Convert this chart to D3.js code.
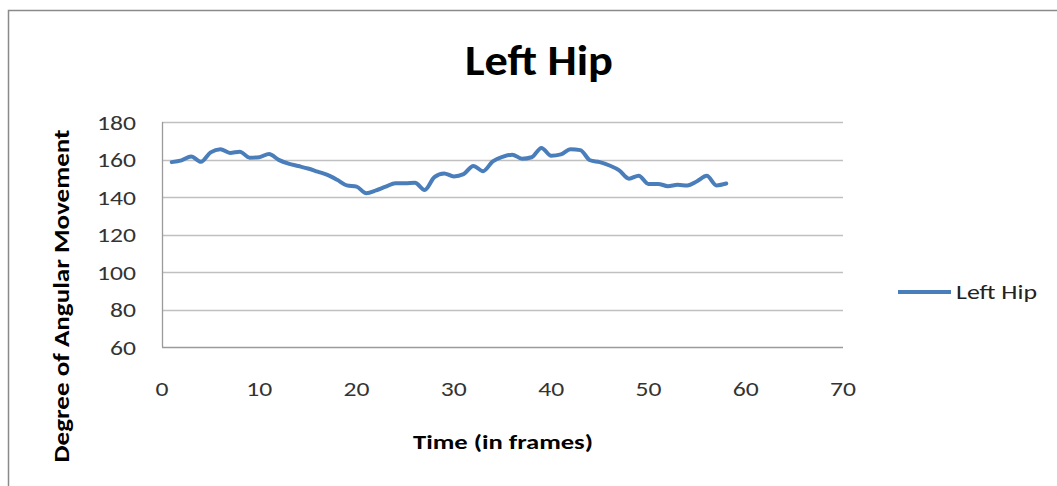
<!DOCTYPE html>
<html>
<head>
<meta charset="utf-8">
<script src="https://cdn.jsdelivr.net/npm/d3@7"></script>
<style>
    body { margin: 0; background: #fff; }
    svg { display: block; font-family: Calibri, Carlito, Lato, sans-serif; }
</style>
</head>
<body>
<div id="chart-area"></div>
<script>
// Left hip angle per frame
let frames = d3.range(1, 59);
let hipValues = [
    158.6, 159.5, 161.6, 158.8, 163.8, 165.5, 163.5, 164.2, 161.0, 161.2,
    163.0, 159.8, 157.8, 156.5, 155.2, 153.5, 151.8, 149.2, 146.2, 145.5,
    142.0, 143.5, 145.5, 147.4, 147.4, 147.6, 143.8, 150.6, 152.6, 151.0,
    152.2, 156.6, 153.8, 159.0, 161.4, 162.6, 160.4, 161.2, 166.2, 162.0,
    162.7, 165.5, 165.0, 159.6, 158.6, 156.8, 154.2, 149.8, 151.4, 147.0,
    147.0, 145.8, 146.5, 146.1, 148.4, 151.3, 146.2, 147.2
];
let xTicks = [0, 10, 20, 30, 40, 50, 60, 70];
let yTicks = [60, 80, 100, 120, 140, 160, 180];
let seriesName = "Left Hip";

let width = 1057, height = 486;
let margin = {top: 122, right: 214, bottom: 139, left: 162};

let svg = d3.select("#chart-area").append("svg")
    .attr("width", width)
    .attr("height", height);

// chart border (only top and left visible in the crop)
svg.append("path")
    .attr("d", "M8.5," + height + "V10.5H" + width)
    .attr("fill", "none")
    .attr("stroke", "#8a8a8a")
    .attr("stroke-width", 1.5);

let x = d3.scaleLinear()
    .domain([0, 70])
    .range([margin.left, width - margin.right]);

let y = d3.scaleLinear()
    .domain([60, 180])
    .range([height - margin.bottom, margin.top]);

// gridlines
svg.append("g")
    .selectAll("line")
    .data(yTicks)
    .enter().append("line")
    .attr("x1", x(0))
    .attr("x2", x(70))
    .attr("y1", d => Math.round(y(d)) + 0.5)
    .attr("y2", d => Math.round(y(d)) + 0.5)
    .attr("stroke", d => d === 60 ? "#9a9a9a" : "#c0c0c0")
    .attr("stroke-width", 1.3);

// left axis line
svg.append("line")
    .attr("x1", Math.round(x(0)) + 0.5)
    .attr("x2", Math.round(x(0)) + 0.5)
    .attr("y1", y(180))
    .attr("y2", y(60))
    .attr("stroke", "#9a9a9a")
    .attr("stroke-width", 1.3);

// the original picture is stretched sideways, so text gets a fixed length
let digitW = 13;

// y tick labels
svg.append("g")
    .selectAll("text")
    .data(yTicks)
    .enter().append("text")
    .attr("x", 136)
    .attr("y", d => y(d))
    .attr("dy", "0.36em")
    .attr("text-anchor", "end")
    .attr("textLength", d => String(d).length * digitW)
    .attr("lengthAdjust", "spacingAndGlyphs")
    .attr("style", "font-size: 21px; fill: #333;")
    .text(d => d);

// x tick labels
svg.append("g")
    .selectAll("text")
    .data(xTicks)
    .enter().append("text")
    .attr("x", d => x(d))
    .attr("y", 396)
    .attr("text-anchor", "middle")
    .attr("textLength", d => String(d).length * digitW)
    .attr("lengthAdjust", "spacingAndGlyphs")
    .attr("style", "font-size: 21px; fill: #333;")
    .text(d => d);

// the series
let line = d3.line()
    .curve(d3.curveMonotoneX)
    .x((d, i) => x(frames[i]))
    .y(d => y(d));

svg.append("path")
    .datum(hipValues)
    .attr("d", line)
    .attr("fill", "none")
    .attr("stroke", "#4a7ebb")
    .attr("stroke-width", 4)
    .attr("stroke-linejoin", "round")
    .attr("stroke-linecap", "round");

// title
svg.append("text")
    .attr("x", 539)
    .attr("y", 75)
    .attr("text-anchor", "middle")
    .attr("textLength", 148)
    .attr("lengthAdjust", "spacingAndGlyphs")
    .attr("style", "font-size: 42px; font-weight: bold; fill: #000;")
    .text(seriesName);

// axis titles
svg.append("text")
    .attr("x", 503)
    .attr("y", 449)
    .attr("text-anchor", "middle")
    .attr("textLength", 180)
    .attr("lengthAdjust", "spacingAndGlyphs")
    .attr("style", "font-size: 21px; font-weight: bold; fill: #000;")
    .text("Time (in frames)");

svg.append("text")
    .attr("transform", "translate(69, 296) rotate(-90)")
    .attr("text-anchor", "middle")
    .attr("textLength", 333)
    .attr("lengthAdjust", "spacingAndGlyphs")
    .attr("style", "font-size: 22px; font-weight: bold; fill: #000;")
    .text("Degree of Angular Movement");

// legend
svg.append("line")
    .attr("x1", 898)
    .attr("x2", 951)
    .attr("y1", 292)
    .attr("y2", 292)
    .attr("stroke", "#4a7ebb")
    .attr("stroke-width", 4);

svg.append("text")
    .attr("x", 956)
    .attr("y", 299)
    .attr("textLength", 81)
    .attr("lengthAdjust", "spacingAndGlyphs")
    .attr("style", "font-size: 21px; fill: #222;")
    .text(seriesName);
</script>
</body>
</html>
